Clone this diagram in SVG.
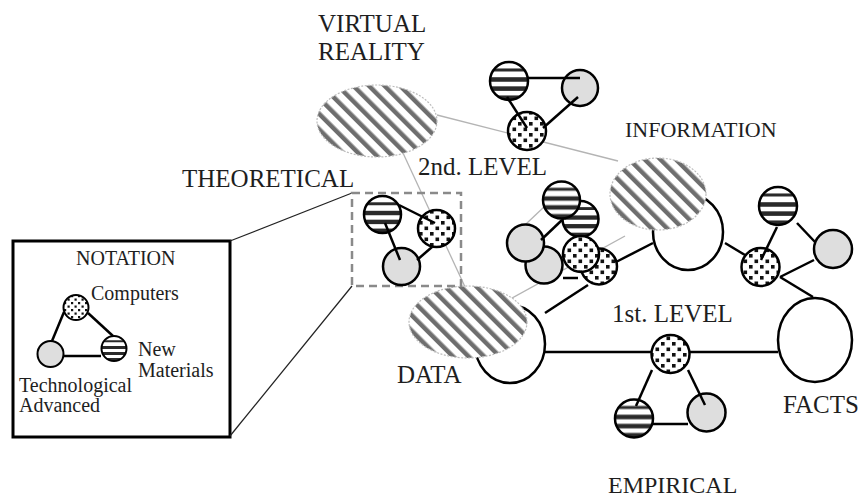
<svg xmlns="http://www.w3.org/2000/svg" width="865" height="499" viewBox="0 0 865 499">
<style>
  .t { font-family: "Liberation Serif", "Times New Roman", serif; fill: #1e1e1e; }
  .big { font-size: 25px; }
  .sm { font-size: 20px; }
  .c { stroke: #000; stroke-width: 2.5; }
  .hs { fill: url(#hstripe); }
  .dt { fill: url(#dots); }
  .gr { fill: #dedede; }
  .wh { fill: #fff; }
  .ell { fill: url(#diag); stroke: #bdbdbd; stroke-width: 1.2; stroke-dasharray: 2 1.5; }
  .big-ell { fill: #fff; stroke: #000; stroke-width: 2.5; }
  .ln { stroke: #000; stroke-width: 2.5; fill: none; }
  .gl { stroke: #b4b4b4; stroke-width: 1.3; fill: none; }
  .zl { stroke: #222; stroke-width: 1.2; fill: none; }
</style>
<defs>
  <pattern id="diag" patternUnits="userSpaceOnUse" width="11" height="11" patternTransform="rotate(-45)">
    <rect width="11" height="11" fill="#fff"/>
    <rect width="4.5" height="11" fill="#6e6e6e"/>
  </pattern>
  <pattern id="hstripe" patternUnits="objectBoundingBox" patternContentUnits="objectBoundingBox" width="1" height="1">
    <rect width="1" height="1" fill="#fff"/>
    <rect y="0.17" width="1" height="0.08" fill="#2a2a2a"/>
    <rect y="0.40" width="1" height="0.12" fill="#2a2a2a"/>
    <rect y="0.64" width="1" height="0.12" fill="#2a2a2a"/>
    <rect y="0.88" width="1" height="0.12" fill="#2a2a2a"/>
  </pattern>
  <pattern id="dots" patternUnits="userSpaceOnUse" width="11" height="11">
    <rect width="11" height="11" fill="#fff"/>
    <rect x="1" y="1" width="3.6" height="3.6" fill="#111"/>
    <rect x="6.5" y="6.5" width="3.6" height="3.6" fill="#111"/>
  </pattern>
  <pattern id="dotsSm" patternUnits="userSpaceOnUse" width="7" height="7">
    <rect width="7" height="7" fill="#fff"/>
    <rect x="1" y="1" width="2.2" height="2.2" fill="#111"/>
    <rect x="4.5" y="4.5" width="2.2" height="2.2" fill="#111"/>
  </pattern>
</defs>

<rect width="865" height="499" fill="#fff"/>

<!-- thin gray links between levels -->
<g id="gray-links">
  <line class="gl" x1="437" y1="115" x2="618" y2="161"/>
  <line class="gl" x1="403" y1="153" x2="466" y2="289"/>
  <line class="gl" x1="505" y1="302" x2="625" y2="236"/>
  <line class="gl" x1="526" y1="224" x2="545" y2="206"/>
</g>

<!-- notation box and zoom lines -->
<g id="notation">
  <rect x="13" y="241" width="217" height="196" fill="#fff" stroke="#000" stroke-width="3"/>
  <line class="zl" x1="230" y1="241" x2="352" y2="193"/>
  <line class="zl" x1="230" y1="436" x2="352" y2="286"/>
  <text class="t sm" x="76" y="265">NOTATION</text>
  <line class="ln" x1="64" y1="312" x2="52" y2="341" stroke-width="2"/>
  <line class="ln" x1="88" y1="313" x2="113" y2="336" stroke-width="2"/>
  <line class="ln" x1="64" y1="356" x2="101" y2="356" stroke-width="2"/>
  <circle cx="76" cy="307.5" r="12.5" fill="url(#dotsSm)" stroke="#000" stroke-width="2"/>
  <circle cx="50.5" cy="354" r="13" class="gr" stroke="#000" stroke-width="2"/>
  <circle cx="114" cy="348.5" r="12.5" class="hs" stroke="#000" stroke-width="2"/>
  <text class="t sm" x="91" y="300">Computers</text>
  <text class="t sm" x="138" y="356">New</text>
  <text class="t sm" x="138" y="377">Materials</text>
  <text class="t sm" x="19" y="392">Technological</text>
  <text class="t sm" x="19" y="412">Advanced</text>
</g>

<!-- level labels -->
<g id="labels">
  <text class="t big" x="318" y="32">VIRTUAL</text>
  <text class="t big" x="318" y="60">REALITY</text>
  <text class="t big" x="418" y="175">2nd. LEVEL</text>
  <text class="t" x="625" y="137" font-size="22">INFORMATION</text>
  <text class="t big" x="182" y="187">THEORETICAL</text>
  <text class="t big" x="397" y="383">DATA</text>
  <text class="t big" x="612" y="322">1st. LEVEL</text>
  <text class="t big" x="783" y="413">FACTS</text>
  <text class="t" x="608" y="493" font-size="24">EMPIRICAL</text>
</g>

<!-- big nodes -->
<g id="virtual-reality">
  <ellipse class="ell" cx="377" cy="121" rx="60" ry="36"/>
</g>
<g id="information">
  <ellipse class="big-ell" cx="688" cy="232" rx="35" ry="38"/>
  <ellipse class="ell" cx="658" cy="194" rx="48" ry="36"/>
</g>
<g id="data">
  <ellipse class="big-ell" cx="510" cy="344" rx="35" ry="39"/>
  <ellipse class="ell" cx="468" cy="322" rx="59" ry="36"/>
</g>
<g id="facts">
  <ellipse class="big-ell" cx="815" cy="340" rx="37" ry="42"/>
</g>

<!-- theoretical box -->
<g id="theoretical">
  <rect x="352" y="193" width="109" height="93" fill="none" stroke="#8a8a8a" stroke-width="2.5" stroke-dasharray="8 5"/>
  <circle class="c hs" cx="382.5" cy="214.5" r="18.5"/>
  <circle class="c dt" cx="436.5" cy="228.5" r="18.5"/>
  <circle class="c gr" cx="401.5" cy="266.5" r="18.5"/>
</g>

<!-- second level cluster -->
<g id="second-level">
  <circle class="c hs" cx="509" cy="81" r="19"/>
  <circle class="c gr" cx="580" cy="88" r="18"/>
  <circle class="c dt" cx="527" cy="131" r="19"/>
</g>

<!-- first level left cluster -->
<g id="cluster-left">
  <circle class="c hs" cx="580.5" cy="219" r="18"/>
  <circle class="c hs" cx="561.5" cy="200" r="18.5"/>
  <circle class="c gr" cx="544" cy="265" r="18.5"/>
  <circle class="c gr" cx="525.5" cy="243" r="18.5"/>
  <circle class="c dt" cx="599" cy="266.5" r="18"/>
  <circle class="c dt" cx="581" cy="254" r="18"/>
</g>

<!-- first level right cluster -->
<g id="cluster-right">
  <circle class="c hs" cx="778" cy="206" r="19"/>
  <circle class="c gr" cx="833" cy="249" r="19"/>
  <circle class="c dt" cx="760.5" cy="267" r="19"/>
</g>

<!-- empirical cluster -->
<g id="empirical">
  <circle class="c dt" cx="670.5" cy="354" r="19"/>
  <circle class="c hs" cx="634" cy="418.5" r="19"/>
  <circle class="c gr" cx="706.5" cy="412.5" r="19"/>
</g>

<!-- connectors -->
<g id="connectors">
  <!-- second level -->
  <line class="ln" x1="528" y1="78" x2="580" y2="78"/>
  <line class="ln" x1="507" y1="97" x2="527" y2="128"/>
  <line class="ln" x1="578" y1="97" x2="543" y2="128"/>
  <!-- theoretical -->
  <line class="ln" x1="399" y1="205" x2="435" y2="223"/>
  <line class="ln" x1="385" y1="223" x2="400" y2="260"/>
  <line class="ln" x1="417" y1="260" x2="432" y2="247"/>
  <!-- left cluster -->
  <line class="ln" x1="541" y1="240" x2="562" y2="220"/>
  <line class="ln" x1="563" y1="278" x2="578" y2="278"/>
  <line class="ln" x1="545" y1="313" x2="588" y2="285"/>
  <line class="ln" x1="616" y1="262" x2="653" y2="243"/>
  <!-- right cluster -->
  <line class="ln" x1="725" y1="243" x2="745" y2="255"/>
  <line class="ln" x1="777" y1="227" x2="761" y2="260"/>
  <line class="ln" x1="797" y1="223" x2="815" y2="242"/>
  <line class="ln" x1="814" y1="260" x2="780" y2="277"/>
  <line class="ln" x1="780" y1="277" x2="813" y2="297"/>
  <!-- first level axis -->
  <line class="ln" x1="545" y1="352" x2="651.5" y2="352"/>
  <line class="ln" x1="689.5" y1="352" x2="778" y2="352"/>
  <!-- empirical -->
  <line class="ln" x1="652" y1="370" x2="636" y2="406"/>
  <line class="ln" x1="688" y1="370" x2="705" y2="405"/>
  <line class="ln" x1="653" y1="424" x2="688" y2="424"/>
</g>
</svg>
